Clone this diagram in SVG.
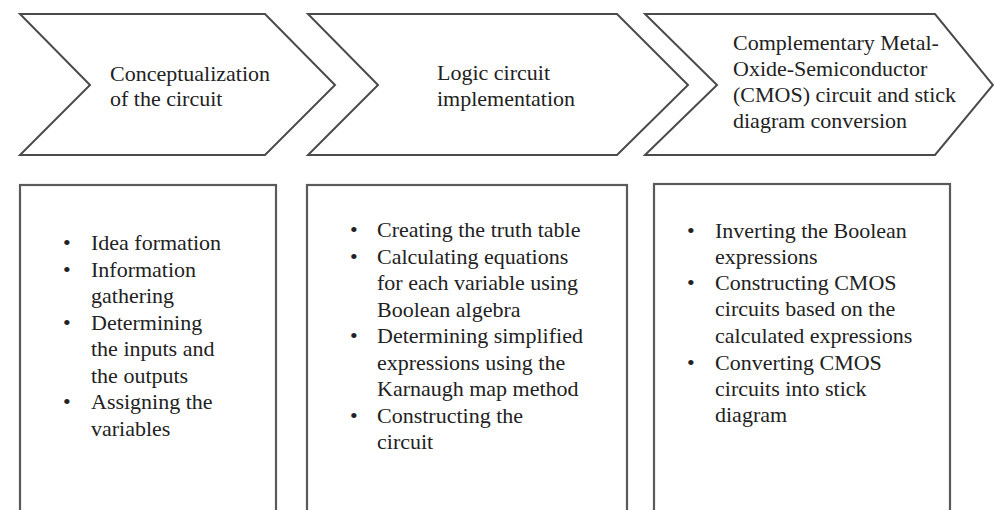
<svg xmlns="http://www.w3.org/2000/svg" width="994" height="510" viewBox="0 0 994 510">
<style>
.chev{fill:#ffffff;stroke:#4a4a4a;stroke-width:2;stroke-linejoin:miter}
.box{fill:#ffffff;stroke:#5a5a5a;stroke-width:2.2}
text{font-family:"Liberation Serif","Times New Roman",serif;font-size:22px;fill:#222222}
</style>
<rect width="994" height="510" fill="#ffffff"/>
<g id="step1">
<polygon class="chev" points="20,14 265,14 335,85 265,155 20,155 90,85"/>
<text x="110" y="81">Conceptualization</text>
<text x="110" y="106">of the circuit</text>
</g>
<g id="step2">
<polygon class="chev" points="308,14 617,14 688,85 617,155 308,155 378,85"/>
<text x="437" y="80">Logic circuit</text>
<text x="437" y="106">implementation</text>
</g>
<g id="step3">
<polygon class="chev" points="645,14 935,14 993,85 935,155 645,155 717,85"/>
<text x="733" y="50">Complementary Metal-</text>
<text x="733" y="76">Oxide-Semiconductor</text>
<text x="733" y="102">(CMOS) circuit and stick</text>
<text x="733" y="128">diagram conversion</text>
</g>
<g id="box1">
<rect class="box" x="20" y="185" width="256" height="340"/>
<text x="63" y="250">•</text><text x="91" y="250">Idea formation</text>
<text x="63" y="276.5">•</text><text x="91" y="276.5">Information</text>
<text x="91" y="303">gathering</text>
<text x="63" y="329.5">•</text><text x="91" y="329.5">Determining</text>
<text x="91" y="356">the inputs and</text>
<text x="91" y="382.5">the outputs</text>
<text x="63" y="409">•</text><text x="91" y="409">Assigning the</text>
<text x="91" y="435.5">variables</text>
</g>
<g id="box2">
<rect class="box" x="307" y="185" width="320" height="340"/>
<text x="350" y="237">•</text><text x="377" y="237">Creating the truth table</text>
<text x="350" y="263.5">•</text><text x="377" y="263.5">Calculating equations</text>
<text x="377" y="290">for each variable using</text>
<text x="377" y="316.5">Boolean algebra</text>
<text x="350" y="343">•</text><text x="377" y="343">Determining simplified</text>
<text x="377" y="369.5">expressions using the</text>
<text x="377" y="396">Karnaugh map method</text>
<text x="350" y="422.5">•</text><text x="377" y="422.5">Constructing the</text>
<text x="377" y="449">circuit</text>
</g>
<g id="box3">
<rect class="box" x="654" y="184" width="296" height="340"/>
<text x="687" y="238">•</text><text x="715" y="238">Inverting the Boolean</text>
<text x="715" y="264">expressions</text>
<text x="687" y="290">•</text><text x="715" y="290">Constructing CMOS</text>
<text x="715" y="316">circuits based on the</text>
<text x="715" y="343">calculated expressions</text>
<text x="687" y="370">•</text><text x="715" y="370">Converting CMOS</text>
<text x="715" y="396">circuits into stick</text>
<text x="715" y="422">diagram</text>
</g>
<g id="connectors"></g>
</svg>
